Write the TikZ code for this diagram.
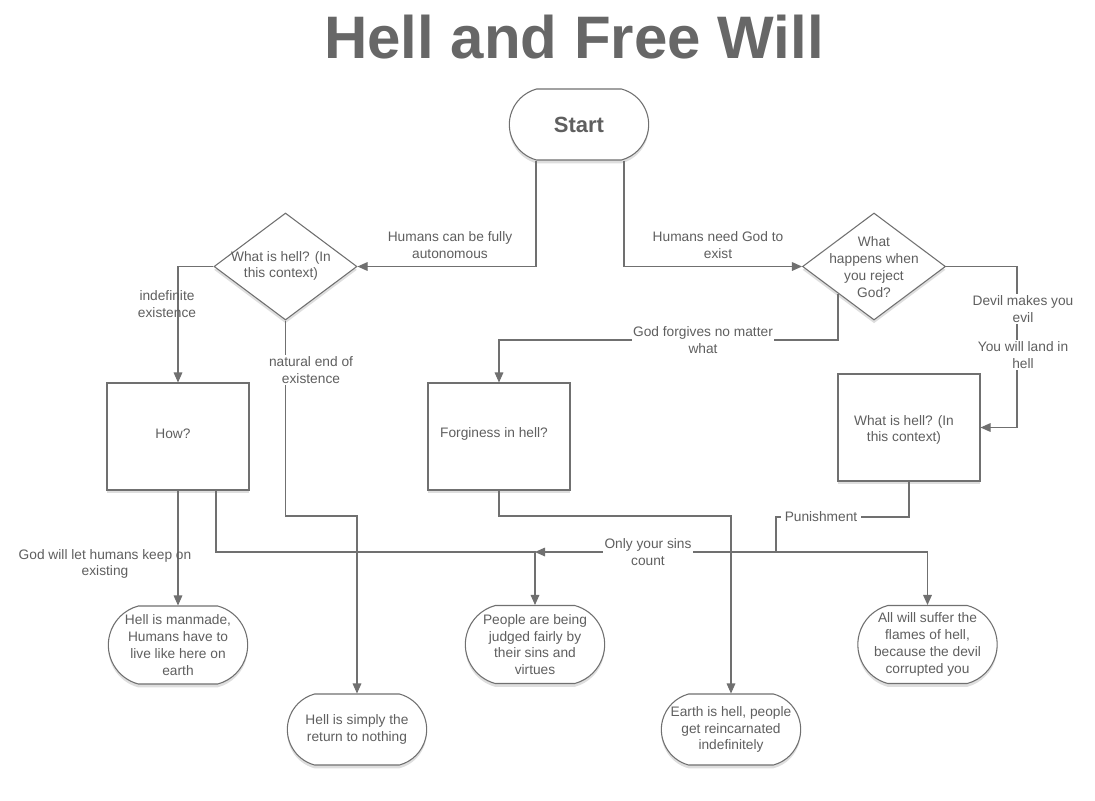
\documentclass[tikz,border=0pt]{standalone}
\usepackage{fontspec}
\setmainfont{Liberation Sans}
\usetikzlibrary{shapes.geometric,shapes.misc,arrows.meta,calc,shadows}
\definecolor{lncol}{HTML}{707070}
\definecolor{txcol}{HTML}{5F5F5F}
\begin{document}
\begin{tikzpicture}[x=0.75pt,y=-0.75pt,
  font=\fontsize{10.3}{12.6}\selectfont, text=txcol,
  shd/.style={drop shadow={shadow xshift=0pt,shadow yshift=-2.5pt,opacity=0.13,fill=black}},
  box/.style={rectangle, draw=lncol, line width=0.8pt, fill=white, minimum width=106.5pt, minimum height=80.25pt, align=center, shd},
  term/.style={rounded rectangle, rounded rectangle arc length=150, draw=lncol, fill=white, line width=0.8pt, minimum width=106.5pt, minimum height=58.5pt, align=center, inner sep=1pt, shd},
  dia/.style={diamond, draw=lncol, fill=white, line width=0.8pt, minimum width=107.25pt, minimum height=80.25pt, inner sep=0pt, shd},
  wire/.style={draw=lncol, line width=0.8pt},
  conn/.style={wire, -{Triangle[length=7.5pt,width=6.5pt]}},
  lab/.style={align=center, inner sep=1pt},
  labw/.style={lab, fill=white}]
\useasboundingbox (0,0) rectangle (1095,800);
\fill[white] (0,0) rectangle (1095,800);

% title
\node[anchor=base, text=txcol!95!white, font=\fontsize{45}{50}\selectfont\bfseries] (title) at (574,58) {Hell and Free Will};

% nodes
\node[term, minimum height=53.25pt, font=\fontsize{16.5}{18}\selectfont\bfseries] (start) at (579,124.5) {Start};
\node[dia] (d1) at (285.5,266.5) {};
\node[lab] (d1t) at (281,266) {What is hell? (In\\this context)};
\node[dia] (d2) at (874,266.5) {};
\node[lab] (d2t) at (874,267) {What\\happens when\\you reject\\God?};

\node[box] (how) at (178,436.5) {};
\node[lab] (howt) at (173,434) {How?};
\node[box] (forg) at (499,436.5) {};
\node[lab] (forgt) at (494,434) {Forginess in hell?};
\node[box] (rbox) at (909,427.5) {};
\node[lab] (rboxt) at (904,430) {What is hell? (In\\this context)};

\node[term] (manmade) at (178,645) {Hell is manmade,\\Humans have to\\live like here on\\earth};
\node[term] (people) at (535,644.5) {People are being\\judged fairly by\\their sins and\\virtues};
\node[term] (suffer) at (927.5,644.5) {All will suffer the\\flames of hell,\\because the devil\\corrupted you};
\node[term, minimum height=53.25pt] (hsimple) at (357,729.5) {Hell is simply the\\return to nothing};
\node[term, minimum height=53.25pt] (earth) at (731,729.5) {Earth is hell, people\\get reincarnated\\indefinitely};

% helper coordinates
\coordinate (c1) at (285.5,516);
\coordinate (c2) at (499,340);
\coordinate (c3) at (1017,300);
\coordinate (c5) at (535,552);
\coordinate (c6) at (776,517);
\coordinate (c7) at (776,552);
\coordinate (c8) at (731,516);

% connectors
\draw[conn] ($(start.south)+(-43,0)$) |- (d1.east);
\draw[conn] ($(start.south)+(45,0)$) |- (d2.west);
\draw[conn] (d1.west) -| (how.north);
\draw[conn] (d1.south) -- (c1) -| (hsimple.north);
\draw[conn] (d2.south west) |- (c2) -- (forg.north);
\draw[conn] (d2.east) -| (c3) |- (rbox.east);
\draw[conn] (how.south) -- (manmade.north);
\draw[conn] ($(how.south)+(38,0)$) |- (c5) -- (people.north);
\draw[conn] (rbox.south) |- (c6) |- (c5);
\draw[conn] (c7) -| (suffer.north);
\draw[conn] (forg.south) |- (c8) -- (earth.north);

% labels
\node[lab] (l1) at (450,245) {Humans can be fully\\autonomous};
\node[lab] (l2) at (718,245) {Humans need God to\\exist};
\node[lab] (l3) at (167,304) {indefinite\\existence};
\node[labw] (l4) at (311,370) {natural end of\\existence};
\node[labw] (l5) at (703,340) {God forgives no matter\\what};
\node[labw] (l6) at (1023,309) {Devil makes you\\evil};
\node[labw] (l7) at (1023,355) {You will land in\\hell};
\node[lab] (l8) at (105,564) {God will let humans keep on\\existing};
\node[labw, inner xsep=3pt] (l9) at (821,517) {Punishment};
\node[labw] (l10) at (648,552) {Only your sins\\count};
\end{tikzpicture}
\end{document}
